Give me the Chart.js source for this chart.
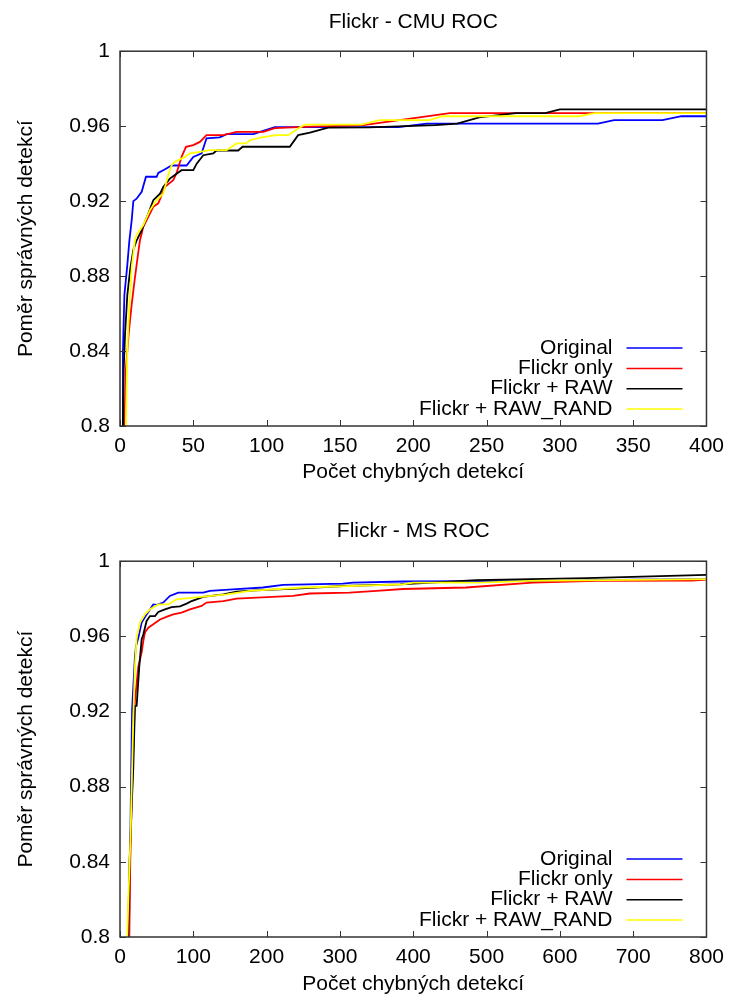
<!DOCTYPE html>
<html>
<head>
<meta charset="utf-8">
<script src="https://cdn.jsdelivr.net/npm/chart.js@4.4.1/dist/chart.umd.min.js"></script>
<style>
  body { margin: 0; background: #fff; }
  canvas { display: block; }
</style>
</head>
<body>
<canvas id="cmuChart" width="732" height="505"></canvas>
<canvas id="msChart" width="732" height="498"></canvas>
<script>
// series labels + colours (gnuplot default-ish)
const seriesLabels = ["Original", "Flickr only", "Flickr + RAW", "Flickr + RAW_RAND"];
const seriesColors = ["#0000ff", "#ff0000", "#000000", "#ffff00"];

// tick values
const yTicks = [0.8, 0.84, 0.88, 0.92, 0.96, 1];
const cmuXTicks = [0, 50, 100, 150, 200, 250, 300, 350, 400];
const msXTicks = [0, 100, 200, 300, 400, 500, 600, 700, 800];

// Flickr - CMU ROC  ([false detections, detection rate])
const cmuOriginal = [[1.5,0.8],[2,0.84],[3,0.87],[5,0.886],[6.4,0.899],[8,0.91],[9.1,0.92],[11.3,0.9213],[14.8,0.925],[17.7,0.933],[25,0.933],[26.1,0.935],[30.7,0.937],[35.2,0.939],[45.4,0.939],[50,0.9436],[55.7,0.9455],[59,0.9535],[68,0.954],[72.7,0.9557],[90.9,0.9557],[97.7,0.9575],[105.6,0.9595],[190,0.9595],[209,0.9614],[326,0.9614],[337,0.9632],[370,0.9632],[383,0.9653],[400,0.9653]];
const cmuFlickr = [[3,0.8],[4,0.83],[6,0.85],[8,0.865],[10,0.878],[12,0.89],[13.6,0.899],[15.9,0.9063],[19.3,0.9116],[22.7,0.917],[26.1,0.9188],[30.7,0.9276],[36.3,0.9312],[38.6,0.935],[42,0.9436],[45,0.949],[50,0.9499],[54.5,0.9516],[59,0.9552],[70.5,0.9552],[79.5,0.957],[97.7,0.957],[105.6,0.959],[129.5,0.9597],[166,0.9605],[225,0.967],[400,0.967]];
const cmuRaw = [[2,0.8],[2.5,0.83],[3.5,0.85],[5,0.87],[7,0.884],[9.1,0.8939],[11.3,0.899],[14.8,0.9045],[19.3,0.9134],[22.7,0.9205],[27.3,0.924],[29.5,0.9276],[34,0.932],[42,0.9365],[50,0.9365],[52.3,0.94],[56.8,0.9445],[63.6,0.9455],[65.9,0.947],[80.6,0.947],[83.6,0.949],[115.8,0.949],[121.5,0.9552],[129.5,0.9565],[142,0.9592],[170,0.9593],[215,0.9605],[230,0.9614],[245,0.9647],[270,0.967],[290,0.967],[300,0.969],[400,0.969]];
const cmuRawRand = [[4,0.8],[5,0.84],[6,0.86],[8,0.885],[10.2,0.899],[11.3,0.9019],[15.9,0.9072],[20.4,0.9152],[25,0.9205],[29.5,0.924],[32.9,0.9339],[35.2,0.9392],[37.5,0.941],[44.3,0.9436],[47.7,0.9455],[54.5,0.9463],[61.3,0.9472],[72.7,0.9472],[79.5,0.9508],[86,0.9508],[88.6,0.9525],[96.5,0.954],[106.8,0.9552],[114.7,0.9552],[121.5,0.9588],[126,0.9608],[164.7,0.9608],[177,0.9632],[211,0.9632],[220,0.9653],[313,0.9653],[324,0.967],[400,0.967]];

// Flickr - MS ROC
const msOriginal = [[12,0.8],[13.6,0.8375],[15,0.88],[16.5,0.921],[20.4,0.9495],[22,0.955],[25,0.9593],[29.5,0.9673],[36.3,0.9717],[45.4,0.977],[50,0.9768],[59,0.978],[68,0.9815],[79.5,0.9833],[113.5,0.9833],[122.6,0.9842],[159,0.9851],[195,0.986],[222.6,0.9874],[304,0.9881],[318,0.9886],[386,0.9892],[600,0.9895],[700,0.9902],[800,0.9905]];
const msFlickr = [[12.7,0.8],[14,0.84],[15.9,0.873],[18,0.9],[20.4,0.926],[25,0.944],[29.5,0.9514],[31.8,0.9575],[34,0.962],[38.6,0.9646],[45.4,0.9664],[54.5,0.969],[65.9,0.9708],[72.7,0.9717],[84,0.9726],[95.4,0.9744],[111.3,0.9762],[118,0.978],[140.8,0.9788],[159,0.9801],[236,0.9815],[259,0.9828],[313,0.9833],[350,0.9842],[386,0.9852],[472,0.986],[563,0.9886],[650,0.9895],[780,0.9897],[800,0.9902]];
const msRaw = [[11,0.8],[13,0.84],[16,0.87],[18.2,0.8908],[20.4,0.9228],[22.7,0.923],[26.3,0.944],[29.5,0.9584],[31.8,0.961],[36.3,0.9682],[40.9,0.9708],[47.7,0.9708],[52.3,0.973],[61.3,0.9744],[70.4,0.9756],[81.8,0.976],[90.9,0.9774],[97.7,0.9788],[113.5,0.981],[140.8,0.9824],[159,0.9838],[186,0.9845],[240.8,0.9854],[304,0.9868],[382,0.9877],[486,0.9899],[636,0.991],[800,0.9927]];
const msRawRand = [[10,0.8],[11.4,0.82],[14.5,0.855],[18.2,0.9175],[20.4,0.944],[22.7,0.9593],[27.3,0.9673],[34,0.9717],[40.9,0.9744],[52.3,0.977],[65.9,0.977],[77.2,0.9797],[100,0.9806],[145.4,0.9824],[177,0.9842],[250,0.986],[386,0.9877],[400,0.9886],[490,0.9886],[560,0.9895],[800,0.9905]];

const FONT = "'Liberation Sans', Arial, sans-serif";

// border + inward mirrored ticks + gnuplot style key (text right, sample line after)
const gnuFrame = {
  id: "gnuFrame",
  afterDatasetsDraw(chart) {
    const { ctx, chartArea: a, scales } = chart;
    ctx.save();
    ctx.strokeStyle = "#333";
    ctx.lineWidth = 1;
    ctx.beginPath();
    scales.x.ticks.forEach((t) => {
      const px = Math.round(scales.x.getPixelForValue(t.value)) + 0.5;
      ctx.moveTo(px, a.bottom); ctx.lineTo(px, a.bottom - 6);
      ctx.moveTo(px, a.top); ctx.lineTo(px, a.top + 6);
    });
    scales.y.ticks.forEach((t) => {
      const py = Math.round(scales.y.getPixelForValue(t.value)) + 0.5;
      ctx.moveTo(a.left, py); ctx.lineTo(a.left + 6, py);
      ctx.moveTo(a.right, py); ctx.lineTo(a.right - 6, py);
    });
    ctx.stroke();
    ctx.lineWidth = 1.5;
    ctx.strokeRect(a.left, a.top, a.right - a.left, a.bottom - a.top);

    ctx.font = "21px " + FONT;
    ctx.textAlign = "right";
    ctx.textBaseline = "middle";
    const sets = chart.data.datasets;
    sets.forEach((ds, i) => {
      const y = a.bottom - 17 - (sets.length - 1 - i) * 20.3;
      ctx.fillStyle = "#000";
      ctx.fillText(ds.label, a.right - 94, y);
      ctx.strokeStyle = ds.borderColor;
      ctx.lineWidth = 1.5;
      ctx.beginPath();
      ctx.moveTo(a.right - 80, y);
      ctx.lineTo(a.right - 24, y);
      ctx.stroke();
    });
    ctx.restore();
  },
};

function makeChart(id, title, series, xTicks, xMax, opts) {
  const ctx = document.getElementById(id).getContext("2d");
  return new Chart(ctx, {
    type: "line",
    data: {
      datasets: series.map((pts, i) => ({
        label: seriesLabels[i],
        data: pts.map(([x, y]) => ({ x, y })),
        borderColor: seriesColors[i],
        borderWidth: 1.8,
        pointRadius: 0,
        tension: 0,
        fill: false,
        order: series.length - i, // later series on top, like gnuplot
      })),
    },
    options: {
      responsive: false,
      animation: false,
      layout: { padding: { left: 0, right: 25, top: 0, bottom: 0 } },
      plugins: {
        legend: { display: false },
        tooltip: { enabled: false },
        title: {
          display: true,
          text: title,
          fullSize: false,
          color: "#000",
          font: { family: FONT, size: 21, weight: "normal" },
          padding: opts.titlePad,
        },
      },
      scales: {
        x: {
          type: "linear",
          min: 0,
          max: xMax,
          afterBuildTicks: (axis) => { axis.ticks = xTicks.map((v) => ({ value: v })); },
          afterFit: (axis) => { axis.height = opts.xAxisH; },
          grid: { display: false, drawTicks: false },
          border: { display: false },
          ticks: { color: "#000", padding: 8, maxRotation: 0, font: { family: FONT, size: 21 } },
          title: {
            display: true,
            text: "Počet chybných detekcí",
            color: "#000",
            font: { family: FONT, size: 21 },
            padding: { top: 0, bottom: opts.xTitleBottom },
          },
        },
        y: {
          type: "linear",
          min: 0.8,
          max: 1,
          afterBuildTicks: (axis) => { axis.ticks = yTicks.map((v) => ({ value: v })); },
          afterFit: (axis) => { axis.width = 120; },
          grid: { display: false, drawTicks: false },
          border: { display: false },
          ticks: {
            color: "#000",
            padding: 10,
            font: { family: FONT, size: 21 },
            callback: (v) => String(+v.toFixed(2)),
          },
          title: {
            display: true,
            text: "Poměr správných detekcí",
            color: "#000",
            font: { family: FONT, size: 21 },
            padding: { top: 14, bottom: 0 },
          },
        },
      },
    },
    plugins: [gnuFrame],
  });
}

makeChart("cmuChart", "Flickr - CMU ROC", [cmuOriginal, cmuFlickr, cmuRaw, cmuRawRand], cmuXTicks, 400, {
  titlePad: { top: 10, bottom: 16 },
  xAxisH: 79,
  xTitleBottom: 20,
});
makeChart("msChart", "Flickr - MS ROC", [msOriginal, msFlickr, msRaw, msRawRand], msXTicks, 800, {
  titlePad: { top: 14, bottom: 17 },
  xAxisH: 66,
  xTitleBottom: 6,
});
</script>
</body>
</html>
